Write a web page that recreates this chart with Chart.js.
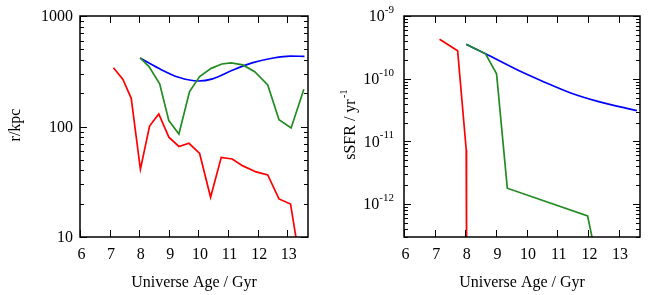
<!DOCTYPE html>
<html>
<head>
<meta charset="utf-8">
<script src="https://cdn.jsdelivr.net/npm/chart.js@4.4.0/dist/chart.umd.min.js"></script>
<style>
  body { margin: 0; background: #fff; }
  canvas { position: absolute; top: 0; }
</style>
</head>
<body>
<canvas id="radius" width="332" height="295" style="left:0"></canvas>
<canvas id="ssfr" width="332" height="295" style="left:332px"></canvas>
<script>
/*** data */
const ageTicks = [6, 7, 8, 9, 10, 11, 12, 13];

// left panel: r / kpc
const redAgeR = [7.13, 7.45, 7.73, 8.04, 8.35, 8.66, 9.0, 9.34, 9.68, 10.04, 10.41, 10.77, 11.14, 11.5, 11.95, 12.34, 12.72, 13.11, 13.35];
const redR = [340, 267, 180, 41, 101, 130, 80, 66, 70.5, 57, 22.9, 52.6, 50.8, 44, 38.8, 36.4, 22.1, 19.9, 8];
const greenAgeR = [8.03, 8.33, 8.69, 9.0, 9.34, 9.70, 10.04, 10.43, 10.79, 11.1, 11.5, 11.9, 12.34, 12.72, 13.13, 13.56];
const greenR = [417, 348, 243, 113, 85.5, 207, 283, 336, 368, 376, 361, 313, 238, 115, 97, 217];
const blueAgeR = [8.03, 8.66, 9.33, 10.0, 10.48, 11.16, 11.84, 12.53, 13.1, 13.58];
const blueR = [417, 336, 279, 258, 270, 324, 378, 417, 434, 431];
const rTicks = [10, 100, 1000];

// right panel: sSFR / yr^-1
const redAgeS = [7.16, 7.75, 8.03, 8.04];
const redS = [4.27e-10, 2.8e-10, 7.4e-12, 2e-13];
const greenAgeS = [8.03, 8.66, 9.02, 9.37, 11.99, 12.2];
const greenS = [3.55e-10, 2.5e-10, 1.2e-10, 1.8e-12, 6.5e-13, 2.1e-13];
const blueAgeS = [8.03, 8.66, 9.69, 10.57, 11.44, 12.32, 13.6];
const blueS = [3.55e-10, 2.5e-10, 1.39e-10, 8.9e-11, 5.93e-11, 4.36e-11, 3.1e-11];
const sExp = [-9, -10, -11, -12];

const RED = '#ff0000', GREEN = '#228b22', BLUE = '#0000ff';
const SERIF = '"Liberation Serif", "DejaVu Serif", serif';

function pts(xs, ys) { return xs.map((x, i) => ({x: x, y: ys[i]})); }

function line(xs, ys, color, smooth) {
  return {
    data: pts(xs, ys),
    borderColor: color,
    borderWidth: 1.7,
    pointRadius: 0,
    tension: smooth ? 0.4 : 0,
    cubicInterpolationMode: smooth ? 'monotone' : 'default',
    clip: 0
  };
}

/*** gnuplot style frame, inward ticks and labels */
const frame = {
  id: 'frame',
  afterDraw(chart, args, o) {
    const {ctx, chartArea: a} = chart;
    const x = chart.scales.x, y = chart.scales.y;
    ctx.save();
    ctx.strokeStyle = '#000';
    ctx.lineWidth = 1;
    ctx.beginPath();
    ageTicks.forEach(v => {
      const px = Math.round(x.getPixelForValue(v)) + 0.5;
      ctx.moveTo(px, a.bottom); ctx.lineTo(px, a.bottom - 7);
      ctx.moveTo(px, a.top); ctx.lineTo(px, a.top + 7);
    });
    const e0 = Math.floor(Math.log10(y.min)), e1 = Math.ceil(Math.log10(y.max));
    for (let e = e0; e <= e1; e++) {
      for (let m = 1; m < 10; m++) {
        const v = m * Math.pow(10, e);
        if (v < y.min * 0.999 || v > y.max * 1.001) continue;
        const len = m === 1 ? 7 : 4;
        const py = Math.round(y.getPixelForValue(v)) + 0.5;
        ctx.moveTo(a.left, py); ctx.lineTo(a.left + len, py);
        ctx.moveTo(a.right, py); ctx.lineTo(a.right - len, py);
      }
    }
    ctx.stroke();
    ctx.lineWidth = 1.5;
    ctx.strokeRect(a.left, a.top, a.right - a.left, a.bottom - a.top);

    ctx.fillStyle = '#000';
    ctx.font = '16px ' + SERIF;
    ctx.textAlign = 'center';
    ctx.textBaseline = 'middle';
    ageTicks.forEach(v => ctx.fillText(String(v), x.getPixelForValue(v) + 1.5, a.bottom + 18));

    if (o.sup) {
      o.sup.forEach(e => {
        const py = y.getPixelForValue(Math.pow(10, e));
        ctx.font = '11px ' + SERIF;
        ctx.textAlign = 'right';
        const exp = String(e);
        const w = ctx.measureText(exp).width;
        ctx.fillText(exp, a.left - 10, py - 6);
        ctx.font = '16px ' + SERIF;
        ctx.fillText('10', a.left - 10 - w, py + 1);
      });
    } else {
      ctx.textAlign = 'right';
      rTicks.forEach(v => ctx.fillText(String(v), a.left - 7, y.getPixelForValue(v) + 1));
    }

    ctx.font = '16px ' + SERIF;
    ctx.textAlign = 'center';
    ctx.fillText('Universe Age / Gyr', (a.left + a.right) / 2, 283);

    ctx.translate(o.titleX, 125);
    ctx.rotate(-Math.PI / 2);
    if (o.sup) {
      ctx.textAlign = 'left';
      const t = 'sSFR / yr';
      const w = ctx.measureText(t).width;
      ctx.font = '11px ' + SERIF;
      const w2 = ctx.measureText('-1').width;
      ctx.font = '16px ' + SERIF;
      const start = -(w + w2) / 2;
      ctx.fillText(t, start, 0);
      ctx.font = '11px ' + SERIF;
      ctx.fillText('-1', start + w + 1, -7);
    } else {
      ctx.fillText('r/kpc', 0, 0);
    }
    ctx.restore();
  }
};

function options(yMin, yMax, pad, extra) {
  return {
    responsive: false,
    animation: false,
    layout: { padding: pad },
    plugins: { legend: { display: false }, tooltip: { enabled: false }, frame: extra },
    scales: {
      x: { type: 'linear', min: 6, max: 13.7, display: false },
      y: { type: 'logarithmic', min: yMin, max: yMax, display: false }
    }
  };
}

new Chart(document.getElementById('radius'), {
  type: 'line',
  data: {
    datasets: [
      line(greenAgeR, greenR, GREEN, false),
      line(blueAgeR, blueR, BLUE, true),
      line(redAgeR, redR, RED, false)
    ]
  },
  options: options(10, 1000, {left: 80, right: 24, top: 16, bottom: 58}, {titleX: 16}),
  plugins: [frame]
});

new Chart(document.getElementById('ssfr'), {
  type: 'line',
  data: {
    datasets: [
      line(greenAgeS, greenS, GREEN, false),
      line(blueAgeS, blueS, BLUE, true),
      line(redAgeS, redS, RED, false)
    ]
  },
  options: options(3.07e-13, 1e-9, {left: 72, right: 24, top: 16, bottom: 58}, {titleX: 19, sup: sExp}),
  plugins: [frame]
});
</script>
</body>
</html>
